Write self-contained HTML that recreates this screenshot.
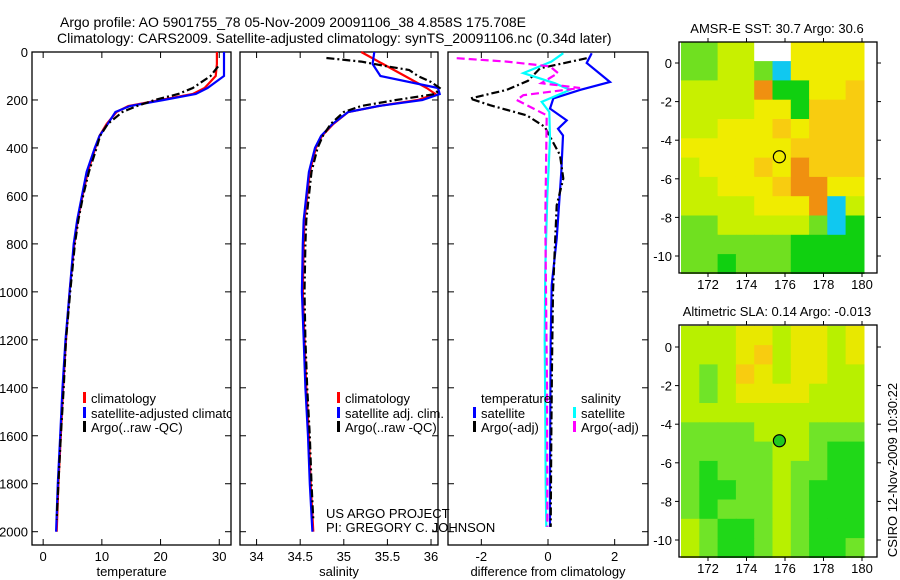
<!DOCTYPE html>
<html><head><meta charset="utf-8"><style>
body{margin:0;background:#fff;}
svg{display:block;font-family:"Liberation Sans",sans-serif;}
text{fill:#000;}
</style></head><body>
<svg id="fig" width="900" height="580" viewBox="0 0 900 580" xmlns="http://www.w3.org/2000/svg">
<defs><clipPath id="clip1"><rect x="32" y="52" width="199" height="493"/></clipPath></defs>
<rect width="900" height="580" fill="#fff"/>
<text x="60" y="27" font-size="14">Argo profile: AO 5901755_78 05-Nov-2009 20091106_38 4.858S 175.708E</text>
<text x="57" y="43" font-size="14">Climatology: CARS2009. Satellite-adjusted climatology: synTS_20091106.nc (0.34d later)</text>
<g id="g1"></g>
<g id="g2"></g>
<g id="g3"></g>
<g id="m1"></g>
<g id="m2"></g>
<text x="326" y="518" font-size="13">US ARGO PROJECT</text>
<text x="326" y="532" font-size="13">PI: GREGORY C. JOHNSON</text>
<text transform="translate(897,470) rotate(-90)" text-anchor="middle" font-size="13">CSIRO 12-Nov-2009 10:30:22</text>
</svg>
<script>
// ---- data ----
const depths = [0,50,100,150,175,200,225,250,300,350,400,500,600,700,800,1000,1200,1400,1600,1800,2000];
const tempClim = [29.6,29.6,29.4,27.5,25.5,20,14.5,12.5,10.8,9.6,8.9,7.6,6.7,5.9,5.3,4.5,3.9,3.4,3.0,2.6,2.3];
const tempSat = [30.8,30.8,30.8,28,26,20.5,14.8,12.3,11,9.6,8.8,7.4,6.6,5.8,5.2,4.5,3.8,3.3,2.9,2.5,2.2];
const argoDepths = [60,100,150,175,200,225,250,300,350,400,500,600,700,800,1000,1200,1400,1600,1800,1950];
const tempArgo = [29.8,28.5,25.5,23,19,16,13.5,11,9.7,9.1,7.8,6.8,6.0,5.4,4.6,3.9,3.5,3.0,2.6,2.3];
const salClim = [35.2,35.45,35.7,35.95,36.05,35.85,35.4,35.05,34.88,34.75,34.68,34.61,34.58,34.55,34.54,34.53,34.55,34.57,34.6,34.62,34.65];
const salSat = [35.35,35.33,35.42,36.08,36.1,35.9,35.4,35.05,34.87,34.74,34.67,34.6,34.57,34.54,34.53,34.52,34.54,34.56,34.59,34.61,34.64];
const salArgoDepths = [25,40,60,75,100,125,150,175,200,225,250,300,350,400,500,600,700,800,1000,1200,1400,1600,1800,1950];
const salArgo = [34.8,35.2,35.5,35.75,35.85,36.0,36.1,36.05,35.6,35.2,35.0,34.85,34.76,34.7,34.63,34.6,34.57,34.56,34.55,34.56,34.58,34.61,34.63,34.65];
const dTDepths = [5,46,125,158,194,236,285,320,348,500,778,972,1200,1500,1800,1980];
const dTSat = [1.31,1.16,1.86,0.96,0.16,0.06,0.56,0.3,0.45,0.4,0.26,0.11,0.08,0.07,0.06,0.06];
const dTArgoDepths = [26,68,120,158,194,222,264,312,430,528,639,800,1000,1300,1600,1980];
const dTArgo = [1.16,-0.24,-0.6,-1.24,-2.34,-1.74,-0.64,-0.1,0.36,0.46,0.26,0.21,0.15,0.12,0.1,0.08];
const dSDepths = [5,40,88,130,158,208,250,360,600,900,1200,1500,1800,1980];
const dSSat = [0.46,0.1,-0.74,0.2,0.66,-0.19,0.04,0.06,-0.02,-0.08,-0.1,-0.08,-0.07,-0.05];
const dSArgoDepths = [26,40,60,88,130,150,180,200,264,400,700,1000,1400,1800,1980];
const dSArgo = [-2.74,-1.24,0.06,0.3,-0.2,0.96,-0.74,-0.94,-0.04,-0.05,-0.08,-0.06,-0.03,-0.02,-0.02];
const depthTicks = [0,200,400,600,800,1000,1200,1400,1600,1800,2000];
const tempTicks = [0,10,20,30];
const salTicks = [34,34.5,35,35.5,36];
const diffTicks = [-2,0,2];
const lonTicks = [172,174,176,178,180];
const latTicks = [0,-2,-4,-6,-8,-10];
const sstGrid = ["3344ww5555","3344315555","4444722556","4444552666","4455565666","5555556666","4555657666","4455567755","4444555714","3344444312","3333332222","3323332222"];
const slaGrid = ["4445545545","4445645545","4346545544","4345555444","4444444444","3333444333","3333344322","3233343322","3223343222","3233343222","4322343222","4322343223"];
const floatLon = 175.708, floatLat = -4.858;

// ---- helpers ----
const NS = "http://www.w3.org/2000/svg";
function mk(parent, tag, attrs){const e=document.createElementNS(NS,tag);for(const k in attrs)e.setAttribute(k,attrs[k]);parent.appendChild(e);return e;}
const Y0 = 52, YS = (531.7-52)/2000;
const yD = d => Y0 + d*YS;
const PB = 545;

function panel(g, x0, x1, xmin, xmax, xticks, xlabel, showY, fmt){
  const xf = v => x0 + (v-xmin)/(xmax-xmin)*(x1-x0);
  const r = mk(g,'rect',{x:x0,y:Y0,width:x1-x0,height:PB-Y0,fill:'none',stroke:'#000','stroke-width':1.3});
   
  depthTicks.forEach(d=>{
    const y=yD(d);
    mk(g,'line',{x1:x0,x2:x0+6,y1:y,y2:y,stroke:'#000'});
    mk(g,'line',{x1:x1,x2:x1-6,y1:y,y2:y,stroke:'#000'});
    if(showY){const t=mk(g,'text',{x:x0-4,y:y+5,'text-anchor':'end','font-size':13});t.textContent=d;
       }
  });
  xticks.forEach(v=>{
    const x=xf(v);
    mk(g,'line',{x1:x,x2:x,y1:PB,y2:PB-6,stroke:'#000'});
    mk(g,'line',{x1:x,x2:x,y1:Y0,y2:Y0+6,stroke:'#000'});
    const t=mk(g,'text',{x:x,y:561,'text-anchor':'middle','font-size':13});t.textContent=fmt?fmt(v):v;
     
  });
  const t=mk(g,'text',{x:(x0+x1)/2,y:576,'text-anchor':'middle','font-size':13});t.textContent=xlabel;
   
  return xf;
}
function line(g, xf, ds, vs, color, dash, name){
  const pts = ds.map((d,i)=>xf(vs[i]).toFixed(1)+','+yD(d).toFixed(1)).join(' ');
  const p = mk(g,'polyline',{points:pts,fill:'none',stroke:color,'stroke-width':2.2});
  if(dash) p.setAttribute('stroke-dasharray',dash);
  
  
}
function legend(g, x, y, color, label, clip){
  mk(g,'rect',{x:x,y:y-11,width:3,height:11,fill:color});
  const t=mk(g,'text',{x:x+8,y:y,'font-size':13});t.textContent=label;
  if(clip) t.setAttribute('clip-path','url(#clip1)');
   
}

// temperature panel
const g1=document.getElementById('g1');
const xT=panel(g1,32,231,-1.9,32,tempTicks,'temperature',true);
line(g1,xT,depths,tempClim,'#f00',null,'temperature-climatology-line');
line(g1,xT,depths,tempSat,'#00f',null,'temperature-satellite-line');
line(g1,xT,argoDepths,tempArgo,'#000','8,3,2,3','temperature-argo-line');
legend(g1,83,403,'#f00','climatology',true);
legend(g1,83,418,'#00f','satellite-adjusted climatology',true);
legend(g1,83,432,'#000','Argo(..raw -QC)',true);

// salinity panel
const g2=document.getElementById('g2');
const xS=panel(g2,240,438,33.81,36.08,salTicks,'salinity',false);
line(g2,xS,depths,salClim,'#f00',null,'salinity-climatology-line');
line(g2,xS,depths,salSat,'#00f',null,'salinity-satellite-line');
line(g2,xS,salArgoDepths,salArgo,'#000','8,3,2,3','salinity-argo-line');
legend(g2,337,403,'#f00','climatology');
legend(g2,337,418,'#00f','satellite adj. clim.');
legend(g2,337,432,'#000','Argo(..raw -QC)');

// difference panel
const g3=document.getElementById('g3');
const xDf=panel(g3,448,648,-3,3,diffTicks,'difference from climatology',false);
line(g3,xDf,dTDepths,dTSat,'#00f',null,'temperature-diff-satellite-line');
line(g3,xDf,dTArgoDepths,dTArgo,'#000','8,3,2,3','temperature-diff-argo-line');
line(g3,xDf,dSDepths,dSSat,'#0ff',null,'salinity-diff-satellite-line');
line(g3,xDf,dSArgoDepths,dSArgo,'#f0f','8,4','salinity-diff-argo-line');
{const t=mk(g3,'text',{x:481,y:403,'font-size':13});t.textContent='temperature';
  
 const t2=mk(g3,'text',{x:581,y:403,'font-size':13});t2.textContent='salinity';
  }
legend(g3,473,418,'#00f','satellite');
legend(g3,473,432,'#000','Argo(-adj)');
legend(g3,573,418,'#0ff','satellite');
legend(g3,573,432,'#f0f','Argo(-adj)');

// maps
const sstColors = {'1':'#10c8f0','2':'#10d010','3':'#70e020','4':'#c8f000','5':'#f0ec00','6':'#f8cc10','7':'#f09010','w':'#ffffff'};
const slaColors = {'2':'#20d818','3':'#70e428','4':'#b8f000','5':'#e8e800','6':'#f8cc10'};
function map(g, top, bottom, lat0y, lat10y, grid, colors, title, filled){
  const x0=679, x1=877, dx0=708, dx1=862;
  const xf = lon => dx0 + (lon-172)/(180-172)*(dx1-dx0);
  const yf = lat => lat0y + (lat-0)/(-10)*(lat10y-lat0y);
  const lonMin=170.6, lonMax=180.1, latMax=1.1, latMin=-10.9;
  const nr=grid.length, nc=grid[0].length;
  const cw=(lonMax-lonMin)/nc, ch=(latMax-latMin)/nr;
  for(let r=0;r<nr;r++)for(let c=0;c<nc;c++){
    const xa=xf(lonMin+c*cw), xb=xf(lonMin+(c+1)*cw), ya=yf(latMax-r*ch), yb=yf(latMax-(r+1)*ch);
    const cell=mk(g,'rect',{x:xa.toFixed(1),y:ya.toFixed(1),width:(xb-xa+0.6).toFixed(1),height:(yb-ya+0.6).toFixed(1),fill:colors[grid[r][c]]});
    
    
  }
  const fr=mk(g,'rect',{x:x0,y:top,width:x1-x0,height:bottom-top,fill:'none',stroke:'#000','stroke-width':1.3});
   
  lonTicks.forEach(l=>{const x=xf(l);
    mk(g,'line',{x1:x,x2:x,y1:top,y2:top-4,stroke:'#000'});
    mk(g,'line',{x1:x,x2:x,y1:bottom,y2:bottom+4,stroke:'#000'});
    const t=mk(g,'text',{x:x,y:bottom+16,'text-anchor':'middle','font-size':13});t.textContent=l;
     });
  latTicks.forEach(l=>{const y=yf(l);
    mk(g,'line',{x1:x0,x2:x0-4,y1:y,y2:y,stroke:'#000'});
    mk(g,'line',{x1:x1,x2:x1+4,y1:y,y2:y,stroke:'#000'});
    const t=mk(g,'text',{x:672,y:y+5,'text-anchor':'end','font-size':13});t.textContent=l;
     });
  const c=mk(g,'circle',{cx:xf(floatLon),cy:yf(floatLat),r:6,fill:filled?'#20c820':'none',stroke:'#000','stroke-width':1.2});
   
  const t=mk(g,'text',{x:777,y:top-9,'text-anchor':'middle','font-size':13});t.textContent=title;
   
}
map(document.getElementById('m1'),42,273,63,256,sstGrid,sstColors,'AMSR-E SST: 30.7 Argo: 30.6',false);
map(document.getElementById('m2'),325,557,347,540,slaGrid,slaColors,'Altimetric SLA: 0.14 Argo: -0.013',true);
</script>
</body></html>
